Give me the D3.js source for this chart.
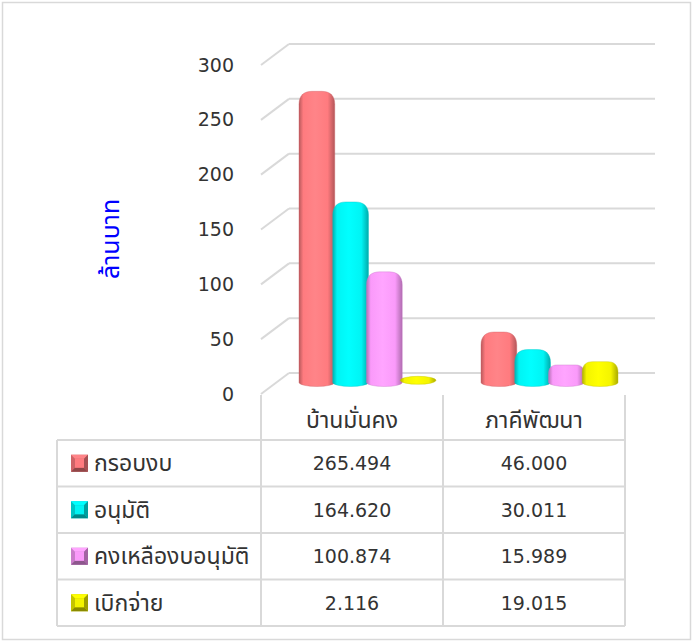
<!DOCTYPE html>
<html>
<head>
<meta charset="utf-8">
<script src="https://cdn.jsdelivr.net/npm/d3@7"></script>
<style>
  body { margin: 0; background: #fff; }
  svg { display: block; font-family: "Noto Sans Thai", "Leelawadee UI", Tahoma, "Noto Sans", sans-serif; }
</style>
</head>
<body>
<div id="chart"></div>
<script>
// ข้อมูล
const categories = ["บ้านมั่นคง", "ภาคีพัฒนา"];
const seriesNames = ["กรอบงบ", "อนุมัติ", "คงเหลืองบอนุมัติ", "เบิกจ่าย"];
const budget = [265.494, 46.000];
const approved = [164.620, 30.011];
const remaining = [100.874, 15.989];
const disbursed = [2.116, 19.015];
const yTicks = [0, 50, 100, 150, 200, 250, 300];
const yLabel = "ล้านบาท";

const seriesValues = [budget, approved, remaining, disbursed];
const colors = ["#ff7b7f", "#00f4f4", "#fa9afa", "#f4f400"];

const W = 696, H = 643;
const svg = d3.select("#chart").append("svg")
    .attr("width", W).attr("height", H);

// กรอบรอบภาพ
svg.append("rect")
    .attr("x", 2.5).attr("y", 2.5)
    .attr("width", 688).attr("height", 637)
    .attr("fill", "none").attr("stroke", "#d9d9d9").attr("stroke-width", 1.5);

// มิติ 3D
const depthX = 28, depthY = -21;
const frontLeft = 261, frontRight = 625;
const digitFont = "DejaVu Sans, Verdana, sans-serif";

const y = d3.scaleLinear().domain([0, 300]).range([394, 65]);
const x = d3.scaleBand().domain(categories).range([frontLeft, frontRight]);
const groupW = 135;
const xs = d3.scaleBand().domain(seriesNames).range([0, groupW]);

// gradients
const defs = svg.append("defs");
colors.forEach((c, i) => {
    const g = defs.append("linearGradient").attr("id", "grad" + i)
        .attr("x1", "0%").attr("x2", "100%").attr("y1", "0%").attr("y2", "0%");
    const base = d3.color(c);
    g.append("stop").attr("offset", "0%").attr("stop-color", base.darker(0.9));
    g.append("stop").attr("offset", "12%").attr("stop-color", base);
    g.append("stop").attr("offset", "45%").attr("stop-color", base.brighter(0.2));
    g.append("stop").attr("offset", "80%").attr("stop-color", base);
    g.append("stop").attr("offset", "100%").attr("stop-color", base.darker(1.0));
});

// เส้นกริด
const grid = svg.append("g");
yTicks.forEach(v => {
    grid.append("line")
        .attr("x1", frontLeft).attr("y1", y(v))
        .attr("x2", frontLeft + depthX).attr("y2", y(v) + depthY)
        .attr("stroke", "#d9d9d9").attr("stroke-width", 2);
    grid.append("line")
        .attr("x1", frontLeft + depthX).attr("y1", y(v) + depthY)
        .attr("x2", 655).attr("y2", y(v) + depthY)
        .attr("stroke", "#d9d9d9").attr("stroke-width", 2);
});

// แกน y
const yAxis = svg.append("g")
    .attr("transform", "translate(248,0)")
    .call(d3.axisLeft(y).tickValues(yTicks).tickSize(0).tickPadding(14));
yAxis.select(".domain").remove();
yAxis.selectAll("text")
    .attr("font-size", 19).attr("fill", "#333")
    .style("font-family", digitFont);

svg.append("text")
    .attr("transform", "translate(119,239) rotate(-90)")
    .attr("text-anchor", "middle")
    .attr("font-size", 25).attr("fill", "#0000ff")
    .text(yLabel);

// แท่งกราฟทรงกระบอก
function barPath(x0, w, yb, yt) {
    const h = yb - yt;
    const ry = 4;
    if (h < 4) {
        const cy = yb - h / 2 - 1;
        return `M${x0},${cy}A${w / 2},${ry} 0 1 1 ${x0 + w},${cy}A${w / 2},${ry} 0 1 1 ${x0},${cy}Z`;
    }
    const r = Math.min(13, h / 2);
    return `M${x0},${yb}` +
        `L${x0},${yt + r}` +
        `C${x0},${yt + r * 0.3} ${x0 + r * 0.4},${yt} ${x0 + r},${yt}` +
        `L${x0 + w - r},${yt}` +
        `C${x0 + w - r * 0.4},${yt} ${x0 + w},${yt + r * 0.3} ${x0 + w},${yt + r}` +
        `L${x0 + w},${yb}` +
        `A${w / 2},${ry} 0 0 1 ${x0},${yb}Z`;
}

const bars = svg.append("g");
seriesNames.forEach((s, si) => {
    bars.selectAll(".bar" + si)
        .data(seriesValues[si])
        .enter()
        .append("path")
        .attr("class", "bar" + si)
        .attr("d", (d, ci) => {
            const cx = x(categories[ci]) + (x.bandwidth() - groupW) / 2 + depthX / 2 + xs(s) + 0.5;
            const yb = y(0) + depthY / 2 - 1;
            const yt = y(d) + depthY / 2 - 1;
            return barPath(cx, xs.bandwidth() + 2, yb, yt);
        })
        .attr("fill", "url(#grad" + si + ")")
        .attr("stroke", d3.color(colors[si]).darker(0.6))
        .attr("stroke-width", 0.4);
});

// ตารางข้อมูล
const rowTop = 440, rowH = 46.5, tableLeft = 57, headTop = 395;
const tbl = svg.append("g");
const lineC = "#d9d9d9";
const colXs = [frontLeft, x(categories[1]), frontRight];
colXs.forEach(cx => {
    tbl.append("line").attr("x1", cx).attr("x2", cx)
        .attr("y1", headTop).attr("y2", rowTop + rowH * 4)
        .attr("stroke", lineC).attr("stroke-width", 2);
});
tbl.append("line").attr("x1", tableLeft).attr("x2", tableLeft)
    .attr("y1", rowTop).attr("y2", rowTop + rowH * 4)
    .attr("stroke", lineC).attr("stroke-width", 2);
for (let i = 0; i <= 4; i++) {
    tbl.append("line").attr("x1", tableLeft).attr("x2", frontRight)
        .attr("y1", rowTop + rowH * i).attr("y2", rowTop + rowH * i)
        .attr("stroke", lineC).attr("stroke-width", 2);
}

tbl.selectAll(".cat")
    .data(categories).enter().append("text")
    .attr("x", d => x(d) + x.bandwidth() / 2)
    .attr("y", 428)
    .attr("text-anchor", "middle")
    .attr("font-size", 23).attr("fill", "#333")
    .text(d => d);

const fmt = d3.format(".3f");
seriesNames.forEach((s, si) => {
    const ty = rowTop + rowH * si + rowH / 2;
    // สัญลักษณ์
    const k = 17, b = 4, kx = 71, ky = ty - k / 2;
    const base = d3.color(colors[si]);
    const key = tbl.append("g");
    key.append("rect").attr("x", kx).attr("y", ky).attr("width", k).attr("height", k)
        .attr("fill", base.darker(0.6));
    key.append("path").attr("d", `M${kx},${ky}L${kx + k},${ky}L${kx + k - b},${ky + b}L${kx + b},${ky + b}Z`)
        .attr("fill", base.brighter(0.2));
    key.append("path").attr("d", `M${kx},${ky + k}L${kx + k},${ky + k}L${kx + k - b},${ky + k - b}L${kx + b},${ky + k - b}Z`)
        .attr("fill", base.darker(1.6));
    key.append("path").attr("d", `M${kx + k},${ky}L${kx + k},${ky + k}L${kx + k - b},${ky + k - b}L${kx + k - b},${ky + b}Z`)
        .attr("fill", base.darker(1.2));
    key.append("rect").attr("x", kx + b).attr("y", ky + b).attr("width", k - 2 * b).attr("height", k - 2 * b)
        .attr("fill", base);

    tbl.append("text")
        .attr("x", 94).attr("y", ty + 8)
        .attr("font-size", 23).attr("fill", "#333")
        .text(s);

    seriesValues[si].forEach((v, ci) => {
        tbl.append("text")
            .attr("x", x(categories[ci]) + x.bandwidth() / 2)
            .attr("y", ty + 7)
            .attr("text-anchor", "middle")
            .attr("font-size", 19).attr("fill", "#333")
            .style("font-family", digitFont)
            .text(fmt(v));
    });
});
</script>
</body>
</html>
